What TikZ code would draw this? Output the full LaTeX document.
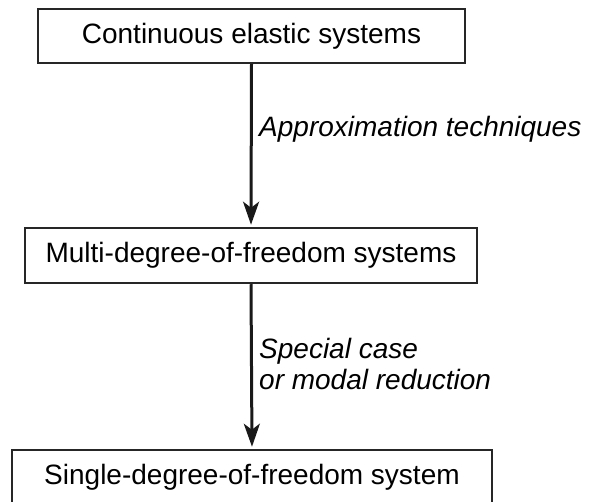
\documentclass[tikz,border=0pt]{standalone}
\usepackage{fontspec}
\setmainfont{Liberation Sans}
\usetikzlibrary{arrows.meta}
\begin{document}
\begin{tikzpicture}[x=1pt,y=-1pt,
  box/.style={draw=black!85,line width=2.5pt,inner sep=0pt,font=\fontsize{28}{32}\selectfont},
  arr/.style={line width=3pt,draw=black!90,-{Stealth[length=23pt,width=16pt,inset=6pt]},shorten >=2pt},
  lab/.style={anchor=base west,inner sep=0pt,font=\fontsize{28}{32}\selectfont\itshape}]
\useasboundingbox (0,0) rectangle (590,502);
\clip (0,0) rectangle (590,502);
\node[box,minimum width=427pt,minimum height=54pt] (top) at (251.5,36) {Continuous elastic systems};
\node[box,minimum width=452pt,minimum height=55pt] (mid) at (251,255.5) {Multi-degree-of-freedom systems};
\node[box,minimum width=480pt,minimum height=55pt] (bot) at (252,477.5) {Single-degree-of-freedom system};
\draw[arr] (top.south) -- (mid.north);
\draw[arr] (mid.south) -- (bot.north);
\node[lab] (l1) at (259,137) {Approximation techniques};
\node[lab] (l2) at (259,359) {Special case};
\node[lab] (l3) at (259,390) {or modal reduction};
\end{tikzpicture}
\end{document}
